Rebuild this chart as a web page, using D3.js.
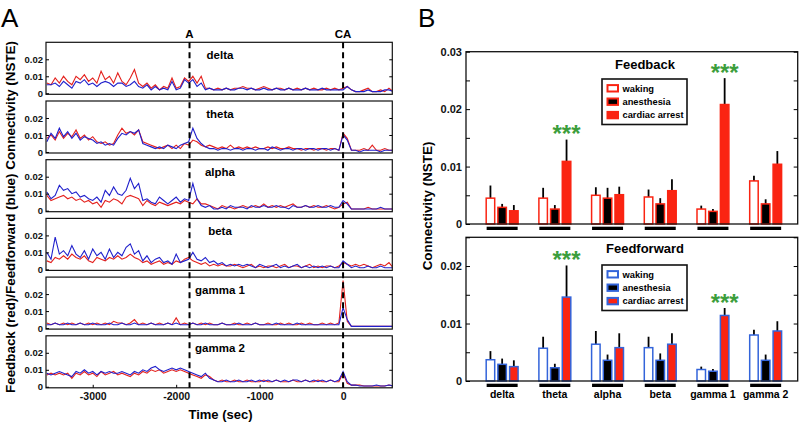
<!DOCTYPE html>
<html>
<head>
<meta charset="utf-8">
<script src="https://cdn.jsdelivr.net/npm/d3@7"></script>
<style>
  body { margin: 0; background: #fff; }
  svg { display: block; font-family: "Liberation Sans", Arial, Helvetica, sans-serif; }
</style>
</head>
<body>
<svg id="fig" width="800" height="422"></svg>
<script>
// ---------- data ----------
const bands = ["delta", "theta", "alpha", "beta", "gamma 1", "gamma 2"];
const conditions = ["waking", "anesthesia", "cardiac arrest"];

// panel A: one sample every 50 s, starting at -3550 s (84 samples, 10 per row)
const t0 = -3550;
const dt = 50;
const timeTicks = [-3000, -2000, -1000, 0];
const markerLabels = ["A", "CA"];
const markerTimes = [-1840, 0];

const deltaFb = [
  .006,.005,.009,.006,.010,.007,.005,.010,.008,.011,
  .007,.009,.006,.013,.008,.010,.006,.012,.007,.005,
  .009,.014,.006,.004,.006,.003,.005,.002,.004,.003,
  .009,.003,.004,.009,.007,.010,.006,.010,.003,.003,
  .002,.003,.002,.003,.002,.003,.003,.004,.003,.003,
  .002,.003,.004,.003,.002,.003,.003,.002,.003,.002,
  .003,.002,.003,.002,.003,.002,.002,.003,.002,.003,
  .002,.003,.004,.002,.001,.001,.002,.003,.001,.001,
  .002,.001,.003,.001];
const deltaFf = [
  .005,.005,.006,.004,.007,.005,.003,.007,.006,.008,
  .005,.006,.004,.006,.007,.006,.004,.006,.006,.004,
  .005,.007,.004,.003,.005,.002,.004,.002,.003,.002,
  .007,.002,.003,.008,.006,.008,.004,.006,.002,.003,
  .002,.002,.002,.003,.002,.002,.003,.003,.002,.003,
  .002,.002,.003,.002,.002,.003,.002,.002,.003,.002,
  .002,.002,.003,.002,.002,.002,.003,.002,.002,.002,
  .002,.002,.004,.002,.001,.001,.001,.002,.001,.001,
  .001,.002,.002,.001];

const thetaFb = [
  .008,.010,.007,.012,.008,.011,.009,.013,.008,.010,
  .007,.009,.006,.005,.006,.004,.005,.010,.014,.011,
  .012,.010,.013,.006,.005,.004,.003,.002,.003,.004,
  .002,.004,.002,.005,.004,.007,.006,.004,.003,.004,
  .003,.002,.003,.002,.004,.002,.003,.002,.003,.002,
  .003,.002,.002,.003,.002,.003,.002,.002,.003,.002,
  .002,.001,.002,.002,.001,.002,.002,.001,.002,.002,
  .001,.011,.008,.001,.001,.001,.002,.001,.004,.001,
  .001,.002,.001,.001];
const thetaFf = [
  .006,.011,.008,.014,.009,.012,.008,.011,.007,.009,
  .008,.007,.005,.006,.004,.005,.004,.008,.011,.010,
  .012,.011,.013,.005,.004,.003,.002,.003,.002,.004,
  .003,.002,.004,.005,.006,.014,.008,.005,.003,.002,
  .002,.001,.002,.002,.001,.002,.002,.001,.002,.002,
  .001,.002,.002,.001,.003,.002,.001,.002,.002,.001,
  .002,.002,.001,.002,.002,.001,.002,.002,.001,.002,
  .001,.010,.007,.001,.001,.000,.001,.001,.001,.001,
  .000,.001,.001,.001];

const alphaFb = [
  .009,.006,.007,.008,.009,.007,.008,.006,.007,.005,
  .006,.004,.005,.002,.006,.005,.007,.006,.004,.008,
  .009,.008,.007,.003,.006,.004,.003,.005,.004,.003,
  .004,.005,.004,.006,.005,.004,.007,.004,.004,.003,
  .002,.001,.003,.002,.002,.001,.002,.003,.002,.002,
  .003,.002,.004,.002,.003,.002,.003,.002,.003,.004,
  .002,.002,.003,.002,.003,.002,.002,.003,.002,.001,
  .002,.004,.005,.001,.001,.001,.001,.002,.001,.001,
  .001,.001,.001,.001];
const alphaFf = [
  .011,.007,.009,.015,.012,.013,.010,.011,.008,.009,
  .007,.006,.008,.005,.012,.009,.014,.010,.009,.012,
  .019,.013,.016,.006,.007,.005,.004,.008,.006,.004,
  .006,.008,.005,.007,.006,.016,.007,.003,.002,.003,
  .001,.001,.002,.001,.003,.002,.002,.002,.001,.003,
  .002,.002,.003,.002,.002,.003,.002,.002,.001,.003,
  .002,.002,.003,.002,.002,.003,.002,.002,.003,.002,
  .002,.006,.004,.001,.001,.001,.001,.001,.001,.001,
  .002,.001,.001,.001];

const betaFb = [
  .005,.004,.007,.006,.008,.006,.009,.007,.006,.008,
  .005,.004,.007,.006,.005,.007,.006,.008,.006,.007,
  .009,.007,.006,.004,.005,.003,.004,.005,.003,.004,
  .003,.005,.004,.006,.007,.005,.004,.003,.004,.002,
  .003,.002,.003,.002,.002,.003,.002,.001,.002,.003,
  .001,.002,.001,.002,.002,.001,.002,.003,.001,.002,
  .002,.001,.002,.003,.001,.002,.001,.002,.002,.001,
  .002,.004,.003,.002,.003,.002,.003,.002,.001,.002,
  .003,.002,.004,.001];
const betaFf = [
  .010,.006,.019,.009,.011,.008,.014,.009,.007,.011,
  .006,.012,.008,.010,.006,.012,.007,.010,.008,.013,
  .015,.009,.011,.005,.008,.004,.006,.007,.004,.005,
  .003,.009,.004,.005,.006,.010,.006,.005,.007,.004,
  .005,.003,.004,.002,.003,.002,.003,.002,.003,.002,
  .001,.003,.002,.001,.002,.003,.001,.002,.001,.002,
  .003,.001,.002,.001,.002,.001,.002,.001,.002,.001,
  .001,.005,.003,.001,.002,.001,.001,.002,.001,.001,
  .002,.001,.001,.001];

const gamma1Fb = [
  .003,.002,.003,.002,.003,.002,.003,.002,.003,.002,
  .003,.002,.003,.002,.003,.002,.004,.003,.003,.002,
  .003,.005,.002,.003,.002,.003,.002,.003,.002,.003,
  .002,.006,.002,.003,.002,.003,.002,.003,.002,.003,
  .002,.002,.003,.002,.002,.003,.002,.002,.003,.002,
  .003,.002,.002,.003,.002,.002,.003,.002,.003,.002,
  .002,.003,.002,.003,.002,.002,.003,.002,.003,.002,
  .003,.028,.004,.001,.001,.001,.001,.001,.001,.001,
  .001,.001,.001,.001];
const gamma1Ff = [
  .002,.002,.003,.002,.002,.003,.002,.002,.003,.002,
  .002,.003,.002,.002,.002,.003,.002,.002,.003,.002,
  .002,.003,.002,.002,.002,.003,.002,.002,.002,.003,
  .002,.003,.002,.002,.002,.003,.002,.002,.003,.002,
  .002,.002,.003,.002,.002,.002,.003,.002,.002,.002,
  .003,.002,.002,.002,.002,.003,.002,.002,.002,.002,
  .003,.002,.002,.002,.002,.002,.002,.002,.002,.002,
  .002,.012,.005,.001,.001,.001,.001,.001,.001,.001,
  .001,.001,.001,.001];

const gamma2Fb = [
  .007,.008,.007,.008,.007,.008,.005,.008,.007,.009,
  .007,.008,.006,.009,.007,.008,.009,.007,.008,.007,
  .006,.008,.007,.009,.008,.010,.009,.010,.008,.009,
  .010,.009,.010,.009,.008,.007,.006,.005,.007,.006,
  .004,.003,.004,.003,.003,.004,.003,.003,.004,.003,
  .003,.003,.004,.003,.003,.004,.003,.003,.003,.004,
  .003,.003,.004,.003,.003,.004,.003,.003,.004,.003,
  .003,.008,.002,.001,.001,.001,.0005,.0005,.0005,.0005,
  .0005,.0005,.001,.0005];
const gamma2Ff = [
  .008,.007,.008,.009,.008,.007,.006,.009,.008,.010,
  .008,.009,.007,.009,.008,.009,.008,.008,.009,.008,
  .007,.009,.008,.010,.009,.011,.012,.010,.009,.010,
  .011,.010,.011,.010,.009,.008,.007,.006,.008,.005,
  .004,.003,.003,.004,.003,.003,.004,.003,.003,.004,
  .003,.004,.003,.004,.003,.004,.003,.004,.003,.004,
  .004,.003,.004,.003,.004,.003,.004,.003,.004,.003,
  .004,.009,.003,.001,.001,.0005,.0005,.0005,.0005,.001,
  .0005,.0005,.001,.0005];

// panel B: means and error-bar sizes, in band order
const fbWaking      = [0.0045, 0.0045, 0.0050, 0.0047, 0.0026, 0.0075];
const fbAnesthesia  = [0.0029, 0.0026, 0.0045, 0.0035, 0.0022, 0.0035];
const fbArrest      = [0.0023, 0.0109, 0.0051, 0.0058, 0.0208, 0.0104];
const fbWakingErr     = [0.0022, 0.0018, 0.0014, 0.0013, 0.0006, 0.0009];
const fbAnesthesiaErr = [0.0006, 0.0007, 0.0018, 0.0010, 0.0004, 0.0008];
const fbArrestErr     = [0.0010, 0.0038, 0.0014, 0.0020, 0.0046, 0.0023];

const ffWaking      = [0.0037, 0.0057, 0.0064, 0.0058, 0.0020, 0.0080];
const ffAnesthesia  = [0.0029, 0.0023, 0.0036, 0.0036, 0.0017, 0.0036];
const ffArrest      = [0.0025, 0.0146, 0.0058, 0.0064, 0.0114, 0.0087];
const ffWakingErr     = [0.0015, 0.0020, 0.0023, 0.0019, 0.0005, 0.0009];
const ffAnesthesiaErr = [0.0010, 0.0007, 0.0010, 0.0012, 0.0004, 0.0010];
const ffArrestErr     = [0.0011, 0.0055, 0.0025, 0.0019, 0.0013, 0.0017];

const starBands = ["theta", "gamma 1"];

// ---------- styling ----------
const RED_LINE = "#e4201c";
const BLUE_LINE = "#2020cc";
const RED_BAR = "#fa2412";
const BLUE_EDGE = "#3364da";
const STAR_GREEN = "#3c9e3c";

const svg = d3.select("#fig");

// big panel letters
svg.append("text").attr("x", 1).attr("y", 27).attr("font-size", 26).text("A");
svg.append("text").attr("x", 418).attr("y", 27).attr("font-size", 26).text("B");

// ================= panel A =================
const xA = d3.scaleLinear().domain([-3560, 590]).range([46, 392.3]);
const panelTop0 = 42.3;
const panelStep = 58.7;
const panelH = 52;
const yA = d3.scaleLinear().domain([-0.0006, 0.03]).range([panelH, 0]);

const tracesA = [
  { band: "delta", fb: deltaFb, ff: deltaFf },
  { band: "theta", fb: thetaFb, ff: thetaFf },
  { band: "alpha", fb: alphaFb, ff: alphaFf },
  { band: "beta", fb: betaFb, ff: betaFf },
  { band: "gamma 1", fb: gamma1Fb, ff: gamma1Ff },
  { band: "gamma 2", fb: gamma2Fb, ff: gamma2Ff }
];

const line = d3.line()
  .x((d, i) => xA(t0 + i * dt))
  .y((d) => yA(d));

const defs = svg.append("defs");
defs.append("clipPath").attr("id", "clipA")
  .append("rect")
  .attr("x", xA.range()[0]).attr("y", 0)
  .attr("width", xA.range()[1] - xA.range()[0]).attr("height", panelH);

const panels = svg.selectAll("g.panelA")
  .data(tracesA)
  .enter()
  .append("g")
  .attr("class", "panelA")
  .attr("transform", (d, i) => `translate(0,${panelTop0 + i * panelStep})`);

panels.append("path")
  .attr("clip-path", "url(#clipA)")
  .attr("d", (d) => line(d.fb))
  .attr("fill", "none")
  .attr("stroke", RED_LINE)
  .attr("stroke-width", 1.1);

panels.append("path")
  .attr("clip-path", "url(#clipA)")
  .attr("d", (d) => line(d.ff))
  .attr("fill", "none")
  .attr("stroke", BLUE_LINE)
  .attr("stroke-width", 1.1);

panels.append("rect")
  .attr("x", xA.range()[0])
  .attr("y", 0)
  .attr("width", xA.range()[1] - xA.range()[0])
  .attr("height", panelH)
  .attr("fill", "none")
  .attr("stroke", "#111")
  .attr("stroke-width", 1.2);

panels.each(function () {
  const g = d3.select(this);
  const left = g.append("g")
    .attr("transform", `translate(${xA.range()[0]},0)`)
    .call(d3.axisLeft(yA).tickValues([0, 0.01, 0.02]).tickSize(-3).tickPadding(3)
      .tickFormat((v) => (v === 0 ? "0" : d3.format(".2f")(v))));
  left.select(".domain").remove();
  left.selectAll("text").attr("font-size", 9.5).attr("font-weight", "bold")
    .attr("font-family", null).attr("fill", "#111");
  const right = g.append("g")
    .attr("transform", `translate(${xA.range()[1]},0)`)
    .call(d3.axisRight(yA).tickValues([0.01, 0.02]).tickSize(-3).tickFormat(""));
  right.select(".domain").remove();
});

panels.append("text")
  .attr("x", 220)
  .attr("y", 16.5)
  .attr("text-anchor", "middle")
  .attr("font-size", 11.5)
  .attr("font-weight", "bold")
  .text((d) => d.band);

const bottomA = panelTop0 + 5 * panelStep + panelH;
const xAxisA = svg.append("g")
  .attr("transform", `translate(0,${bottomA})`)
  .call(d3.axisBottom(xA).tickValues(timeTicks).tickSize(-3).tickPadding(4.5)
    .tickFormat((v) => String(v)));
xAxisA.select(".domain").remove();
xAxisA.selectAll("text").attr("font-size", 10.5).attr("font-weight", "bold")
  .attr("font-family", null).attr("fill", "#111");

// event markers
markerTimes.forEach((t, i) => {
  svg.append("line")
    .attr("x1", xA(t)).attr("x2", xA(t))
    .attr("y1", panelTop0).attr("y2", bottomA)
    .attr("stroke", "#000")
    .attr("stroke-width", 2)
    .attr("stroke-dasharray", "6,4");
  svg.append("text")
    .attr("x", xA(t)).attr("y", 38.3)
    .attr("text-anchor", "middle")
    .attr("font-size", 11.5).attr("font-weight", "bold")
    .text(markerLabels[i]);
});

svg.append("text")
  .attr("x", 220.5).attr("y", 419)
  .attr("text-anchor", "middle")
  .attr("font-size", 13).attr("font-weight", "bold")
  .text("Time (sec)");

svg.append("text")
  .attr("transform", "translate(14.5,217) rotate(-90)")
  .attr("text-anchor", "middle")
  .attr("font-size", 13.4).attr("font-weight", "bold")
  .text("Feedback (red)/Feedforward (blue) Connectivity (NSTE)");

// ================= panel B =================
const xB = d3.scalePoint().domain(bands).range([466, 797.7]).padding(0.647).align(0.53);
const xSub = d3.scaleBand().domain(conditions).range([-16.7, 16.7]).paddingInner(0.145);

const panelsB = [
  { title: "Feedback", top: 51.7, bottom: 224, max: 0.03, edge: RED_BAR,
    means: [fbWaking, fbAnesthesia, fbArrest],
    errs: [fbWakingErr, fbAnesthesiaErr, fbArrestErr],
    titleY: 69, legendTop: 79 },
  { title: "Feedforward", top: 237.3, bottom: 381, max: 0.025, edge: BLUE_EDGE,
    means: [ffWaking, ffAnesthesia, ffArrest],
    errs: [ffWakingErr, ffAnesthesiaErr, ffArrestErr],
    titleY: 253.3, legendTop: 265 }
];
const condFill = (c, p) => (c === "waking" ? "#fff" : c === "anesthesia" ? "#000" : RED_BAR);

panelsB.forEach((p) => {
  const y = d3.scaleLinear().domain([0, p.max]).range([p.bottom, p.top]);
  const g = svg.append("g");
  const [x0, x1] = xB.range();

  // bars
  const rows = [];
  bands.forEach((b, bi) => {
    conditions.forEach((c, ci) => {
      rows.push({ band: b, cond: c, v: p.means[ci][bi], e: p.errs[ci][bi] });
    });
  });

  const bw = xSub.bandwidth();
  g.selectAll("line.err")
    .data(rows)
    .enter()
    .append("line")
    .attr("class", "err")
    .attr("x1", (d) => xB(d.band) + xSub(d.cond) + bw / 2)
    .attr("x2", (d) => xB(d.band) + xSub(d.cond) + bw / 2)
    .attr("y1", (d) => y(d.v))
    .attr("y2", (d) => y(d.v + d.e))
    .attr("stroke", "#000")
    .attr("stroke-width", 1.8);

  g.selectAll("rect.bar")
    .data(rows)
    .enter()
    .append("rect")
    .attr("class", "bar")
    .attr("x", (d) => xB(d.band) + xSub(d.cond) + 0.75)
    .attr("width", bw - 1.5)
    .attr("y", (d) => y(d.v))
    .attr("height", (d) => y(0) - y(d.v))
    .attr("fill", (d) => condFill(d.cond))
    .attr("stroke", p.edge)
    .attr("stroke-width", 1.5);

  // significance stars
  g.selectAll("text.star")
    .data(rows.filter((d) => d.cond === "cardiac arrest" && starBands.includes(d.band)))
    .enter()
    .append("text")
    .attr("class", "star")
    .attr("x", (d) => xB(d.band) + xSub(d.cond) + bw / 2)
    .attr("y", (d) => y(d.v + d.e) - 10.5 + 13)
    .attr("text-anchor", "middle")
    .attr("font-size", 24)
    .attr("font-weight", "bold")
    .attr("fill", STAR_GREEN)
    .text("***");

  // frame
  g.append("rect")
    .attr("x", x0).attr("y", p.top)
    .attr("width", x1 - x0).attr("height", p.bottom - p.top)
    .attr("fill", "none").attr("stroke", "#111").attr("stroke-width", 1.3);

  const tickVals = d3.range(0, p.max + 1e-9, 0.005);
  const left = g.append("g")
    .attr("transform", `translate(${x0},0)`)
    .call(d3.axisLeft(y).tickValues(tickVals).tickSize(-4).tickPadding(4)
      .tickFormat((v) => {
        const k = Math.round(v * 1000);
        if (k % 10 !== 0) return "";
        return k === 0 ? "0" : d3.format(".2f")(v);
      }));
  left.select(".domain").remove();
  left.selectAll("text").attr("font-size", 11).attr("font-weight", "bold")
    .attr("font-family", null).attr("fill", "#111");
  const right = g.append("g")
    .attr("transform", `translate(${x1},0)`)
    .call(d3.axisRight(y).tickValues(tickVals.slice(1)).tickSize(-4).tickFormat(""));
  right.select(".domain").remove();

  // group underlines
  g.selectAll("rect.under")
    .data(bands)
    .enter()
    .append("rect")
    .attr("class", "under")
    .attr("x", (b) => xB(b) - 15.5)
    .attr("width", 31)
    .attr("y", p.bottom + 2.7)
    .attr("height", 3.3)
    .attr("fill", "#000");

  // title
  g.append("text")
    .attr("x", 645).attr("y", p.titleY)
    .attr("text-anchor", "middle")
    .attr("font-size", 13).attr("font-weight", "bold")
    .text(p.title);

  // legend
  const lg = g.append("g").attr("transform", `translate(602,${p.legendTop})`);
  lg.append("rect")
    .attr("width", 85).attr("height", 45.5)
    .attr("fill", "#fff").attr("stroke", "#111").attr("stroke-width", 1.6);
  const item = lg.selectAll("g.item")
    .data(conditions)
    .enter()
    .append("g")
    .attr("class", "item")
    .attr("transform", (c, i) => `translate(0,${9.3 + i * 13.4})`);
  item.append("rect")
    .attr("x", 5.5).attr("y", -3.2)
    .attr("width", 10.5).attr("height", 6.4)
    .attr("fill", (c) => condFill(c))
    .attr("stroke", p.edge).attr("stroke-width", 2);
  item.append("text")
    .attr("x", 20.5).attr("dy", "0.35em")
    .attr("font-size", 9.3).attr("font-weight", "bold")
    .text((c) => c);
});

// band labels under panel B
svg.selectAll("text.bandB")
  .data(bands)
  .enter()
  .append("text")
  .attr("class", "bandB")
  .attr("x", (b) => xB(b))
  .attr("y", 398)
  .attr("text-anchor", "middle")
  .attr("font-size", 10.5)
  .attr("font-weight", "bold")
  .text((b) => b);

svg.append("text")
  .attr("transform", "translate(431.5,206) rotate(-90)")
  .attr("text-anchor", "middle")
  .attr("font-size", 13.4).attr("font-weight", "bold")
  .text("Connectivity (NSTE)");
</script>
</body>
</html>
